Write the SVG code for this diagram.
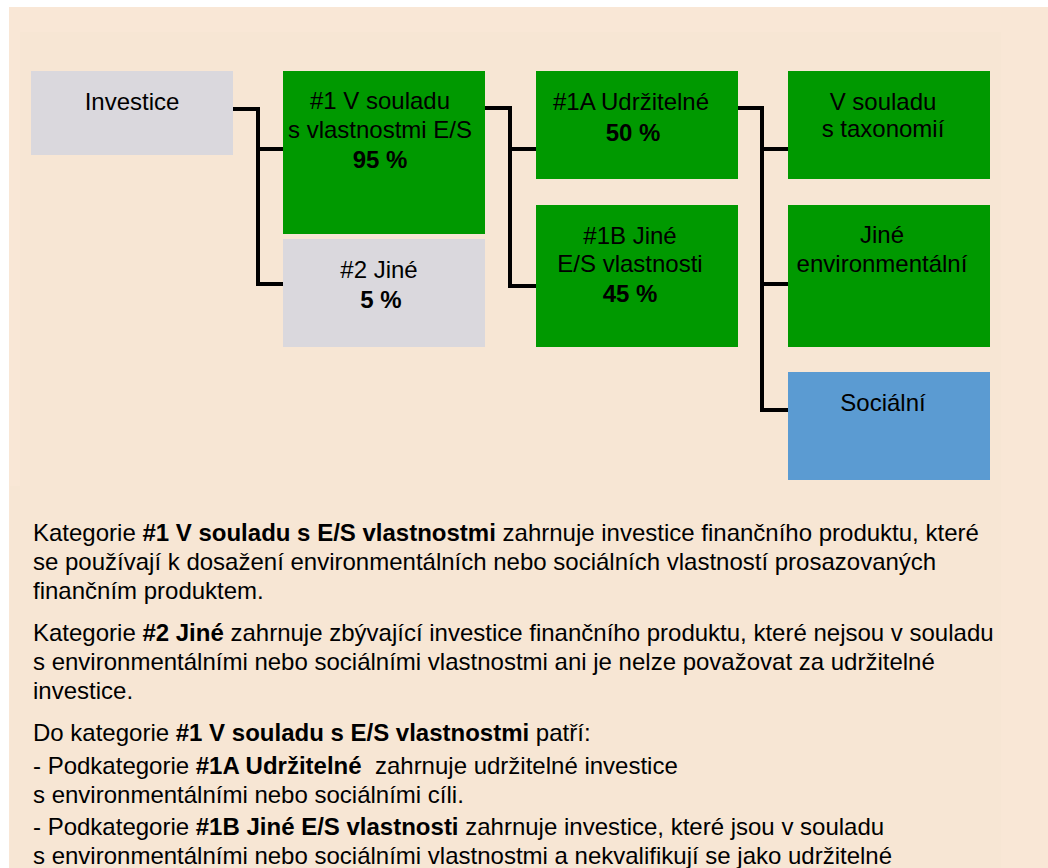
<svg xmlns="http://www.w3.org/2000/svg" width="1048" height="868" viewBox="0 0 1048 868">
<style>
text{font-family:"Liberation Sans",Arial,sans-serif;font-size:24px;fill:#000}
.c{text-anchor:middle}
.b{font-weight:bold}
.pre{white-space:pre}
.green{fill:#009900}
.gray{fill:#DAD8DD}
.blue{fill:#5B9BD2}
.conn{fill:none;stroke:#000;stroke-width:4;stroke-linejoin:miter}
</style>
<rect x="0" y="0" width="1048" height="868" fill="#FFFFFF"/>
<rect x="9" y="7" width="1039" height="861" fill="#F9E7D6"/>
<rect x="20" y="32" width="981" height="836" fill="#F7E6D4"/>
<rect x="10" y="486" width="991" height="382" fill="#F7E6D4"/>

<g id="connectors">
<path class="conn" d="M233,109 H258 V284 H283 M258,149 H283"/>
<path class="conn" d="M485,108 H510 V286 H536 M510,149 H536"/>
<path class="conn" d="M738,108 H762 V410 H788 M762,149 H788 M762,284 H788"/>
</g>

<g id="investice">
<rect class="gray" x="31" y="71" width="202" height="84"/>
<text class="c" x="132" y="110">Investice</text>
</g>
<g id="n1">
<rect class="green" x="283" y="71" width="202" height="163"/>
<text class="c" x="380" y="109">#1 V souladu</text>
<text class="c" x="380" y="138">s vlastnostmi E/S</text>
<text class="c b" x="380" y="168">95 %</text>
</g>
<g id="n2">
<rect class="gray" x="283" y="239" width="202" height="108"/>
<text class="c" x="379" y="278">#2 Jiné</text>
<text class="c b" x="381" y="308">5 %</text>
</g>
<g id="n1a">
<rect class="green" x="536" y="71" width="202" height="108"/>
<text class="c" x="631" y="110">#1A Udržitelné</text>
<text class="c b" x="633" y="141">50 %</text>
</g>
<g id="n1b">
<rect class="green" x="536" y="205" width="202" height="142"/>
<text class="c" x="630" y="244">#1B Jiné</text>
<text class="c" x="630" y="272">E/S vlastnosti</text>
<text class="c b" x="630" y="302">45 %</text>
</g>
<g id="taxonomie">
<rect class="green" x="788" y="71" width="202" height="108"/>
<text class="c" x="883" y="110">V souladu</text>
<text class="c" x="883" y="137">s taxonomií</text>
</g>
<g id="jine-env">
<rect class="green" x="788" y="205" width="202" height="142"/>
<text class="c" x="882" y="243">Jiné</text>
<text class="c" x="882" y="272">environmentální</text>
</g>
<g id="socialni">
<rect class="blue" x="788" y="372" width="202" height="108"/>
<text class="c" x="883" y="411">Sociální</text>
</g>

<g id="legend">
<text x="33" y="541">Kategorie <tspan class="b">#1 V souladu s E/S vlastnostmi</tspan> zahrnuje investice finančního produktu, které</text>
<text x="33" y="570">se používají k dosažení environmentálních nebo sociálních vlastností prosazovaných</text>
<text x="33" y="599">finančním produktem.</text>
<text x="33" y="641">Kategorie <tspan class="b">#2 Jiné</tspan> zahrnuje zbývající investice finančního produktu, které nejsou v souladu</text>
<text x="33" y="670">s environmentálními nebo sociálními vlastnostmi ani je nelze považovat za udržitelné</text>
<text x="33" y="699">investice.</text>
<text x="33" y="741">Do kategorie <tspan class="b">#1 V souladu s E/S vlastnostmi</tspan> patří:</text>
<text class="pre" x="33" y="774">- Podkategorie <tspan class="b">#1A Udržitelné</tspan>  zahrnuje udržitelné investice</text>
<text x="33" y="803">s environmentálními nebo sociálními cíli.</text>
<text x="33" y="835">- Podkategorie <tspan class="b">#1B Jiné E/S vlastnosti</tspan> zahrnuje investice, které jsou v souladu</text>
<text x="33" y="864">s environmentálními nebo sociálními vlastnostmi a nekvalifikují se jako udržitelné</text>
</g>
</svg>
